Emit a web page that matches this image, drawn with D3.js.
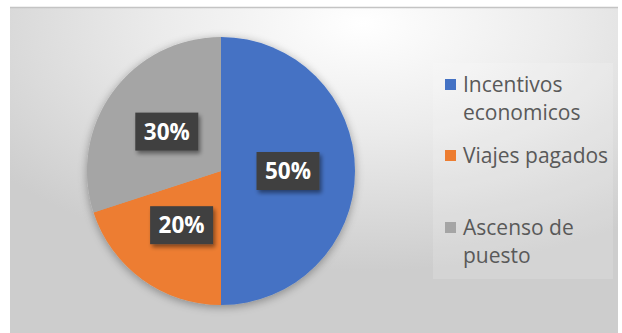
<!DOCTYPE html>
<html>
<head>
<meta charset="utf-8">
<script src="https://cdn.jsdelivr.net/npm/d3@7"></script>
<style>
  html, body { margin: 0; padding: 0; background: #ffffff; }
  svg { display: block; }
</style>
</head>
<body>
<svg id="chart" width="622" height="333"></svg>
<script>
// Motivation factors, share of responses (%)
const categories = ["Incentivos economicos", "Viajes pagados", "Ascenso de puesto"];
const values = [50, 20, 30];
const colors = ["#4472C4", "#ED7D31", "#A5A5A5"];
// Legend text as wrapped lines
const legendLines = [["Incentivos", "economicos"], ["Viajes pagados"], ["Ascenso de", "puesto"]];

const data = categories.map((c, i) => ({ name: c, value: values[i], color: colors[i], lines: legendLines[i] }));
const total = d3.sum(values);

const svg = d3.select("#chart");
const defs = svg.append("defs");

// chart-area background: soft radial light near the top
const bg = defs.append("radialGradient")
  .attr("id", "bgGrad")
  .attr("cx", 0.58).attr("cy", 0.05).attr("r", 0.75)
  .attr("fx", 0.58).attr("fy", 0.05);
bg.append("stop").attr("offset", "0%").attr("stop-color", "#ffffff");
bg.append("stop").attr("offset", "45%").attr("stop-color", "#ebebeb");
bg.append("stop").attr("offset", "100%").attr("stop-color", "#cdcdcd");

// soft glow under the pie
const glow = defs.append("filter").attr("id", "pieGlow")
  .attr("x", "-20%").attr("y", "-20%").attr("width", "140%").attr("height", "140%");
glow.append("feGaussianBlur").attr("in", "SourceAlpha").attr("stdDeviation", 5).attr("result", "b");
glow.append("feOffset").attr("in", "b").attr("dx", 0).attr("dy", 2).attr("result", "o");
glow.append("feComponentTransfer").attr("in", "o").attr("result", "s")
  .append("feFuncA").attr("type", "linear").attr("slope", 0.35);
const gm = glow.append("feMerge");
gm.append("feMergeNode").attr("in", "s");
gm.append("feMergeNode").attr("in", "SourceGraphic");

// shadow for the label boxes
const boxShadow = defs.append("filter").attr("id", "boxShadow")
  .attr("x", "-30%").attr("y", "-30%").attr("width", "170%").attr("height", "170%");
boxShadow.append("feGaussianBlur").attr("in", "SourceAlpha").attr("stdDeviation", 2).attr("result", "b");
boxShadow.append("feOffset").attr("in", "b").attr("dx", 2).attr("dy", 3).attr("result", "o");
boxShadow.append("feComponentTransfer").attr("in", "o").attr("result", "s")
  .append("feFuncA").attr("type", "linear").attr("slope", 0.45);
const bm = boxShadow.append("feMerge");
bm.append("feMergeNode").attr("in", "s");
bm.append("feMergeNode").attr("in", "SourceGraphic");

// chart area
svg.append("rect")
  .attr("x", 10).attr("y", 7).attr("width", 608).attr("height", 330)
  .attr("fill", "url(#bgGrad)");
svg.append("line")
  .attr("x1", 10).attr("x2", 618).attr("y1", 7.5).attr("y2", 7.5)
  .attr("stroke", "#c4c4c4").attr("stroke-width", 1.5);

// legend panel
svg.append("rect")
  .attr("x", 433).attr("y", 63).attr("width", 180).attr("height", 216)
  .attr("fill", "#ffffff").attr("fill-opacity", 0.15);

// pie
const cx = 221, cy = 171, radius = 134;
const pie = d3.pie().value(d => d.value).sort(null);
const arc = d3.arc().innerRadius(0).outerRadius(radius);
const arcs = pie(data);

const g = svg.append("g").attr("transform", `translate(${cx},${cy})`);
g.append("g").attr("filter", "url(#pieGlow)")
  .selectAll("path").data(arcs).join("path")
  .attr("d", arc)
  .attr("fill", d => d.data.color);

// percentage labels
const fmt = d3.format(".0%");
const lab = g.selectAll("g.lab").data(arcs).join("g")
  .attr("class", "lab")
  .attr("transform", d => `translate(${arc.centroid(d)})`);
lab.append("rect")
  .attr("x", -31.5).attr("y", -19).attr("width", 63).attr("height", 38)
  .attr("fill", "#404040")
  .attr("filter", "url(#boxShadow)");
lab.append("text")
  .attr("text-anchor", "middle")
  .attr("dy", "0.36em")
  .attr("font-family", "'Open Sans', sans-serif")
  .attr("font-weight", "bold")
  .attr("font-size", 22.5)
  .attr("fill", "#ffffff")
  .text(d => fmt(d.data.value / total));

// legend
const legendBaselines = [92, 163, 235];
const lineGap = 28;
const leg = svg.append("g");
const items = leg.selectAll("g").data(data).join("g")
  .attr("transform", (d, i) => `translate(445,${legendBaselines[i]})`);
items.append("rect")
  .attr("x", 0).attr("y", -13).attr("width", 11).attr("height", 11)
  .attr("fill", d => d.color);
items.each(function(d) {
  const t = d3.select(this).append("text")
    .attr("x", 18)
    .attr("font-family", "'Open Sans', sans-serif")
    .attr("font-size", 21)
    .attr("fill", "#595959");
  d.lines.forEach((ln, k) => {
    t.append("tspan").attr("x", 18).attr("y", k * lineGap).text(ln);
  });
});
</script>
</body>
</html>
